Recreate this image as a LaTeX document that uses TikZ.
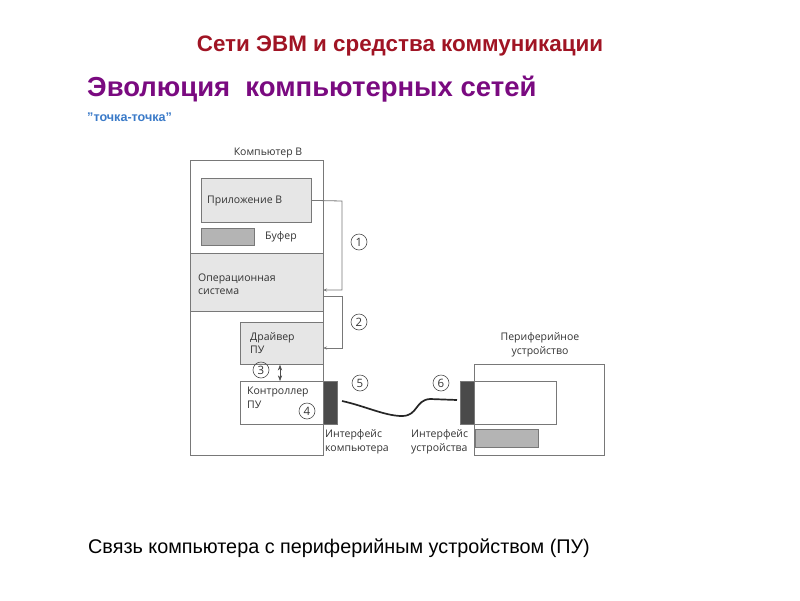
\documentclass[tikz,border=0pt]{standalone}
\usepackage{fontspec}
\setmainfont{Liberation Sans}
\newfontfamily\diagfont{Open Sans}
\usetikzlibrary{arrows.meta}
\definecolor{titlered}{HTML}{A01424}
\definecolor{headpurple}{HTML}{7A0A80}
\definecolor{subblue}{HTML}{3A7AC8}
\definecolor{lightfill}{HTML}{E6E6E6}
\definecolor{midfill}{HTML}{B4B4B4}
\definecolor{darkfill}{HTML}{4A4A4A}
\definecolor{linegray}{HTML}{787878}
\tikzset{
  box/.style={draw=linegray, line width=0.8pt},
  lbl/.style={font=\diagfont\fontsize{10.5}{13.5}\selectfont, text=black!80, inner sep=0pt, align=left},
  num/.style={circle, draw=black!70, line width=0.6pt, inner sep=0pt, minimum size=16pt, font=\diagfont\fontsize{11.5}{11.5}\selectfont, text=black!80},
  conn/.style={draw=linegray, line width=0.8pt},
}
\begin{document}
\begin{tikzpicture}[x=1pt,y=-1pt]
\useasboundingbox (0,0) rectangle (800,600);
% titles
\node[font=\bfseries\fontsize{22.4}{24}\selectfont, text=titlered] (t1) at (400,46) {Сети ЭВМ и средства коммуникации};
\node[font=\bfseries\fontsize{27.5}{30}\selectfont, text=headpurple, anchor=west, inner sep=0pt] (t2) at (87,89) {Эволюция\ \ компьютерных сетей};
\node[font=\bfseries\fontsize{12.6}{15}\selectfont, text=subblue, anchor=west, inner sep=0pt] (t3) at (87,117) {{\char34}точка-точка{\char34}};
\node[font=\fontsize{19.8}{22}\selectfont, anchor=west, inner sep=0pt] (cap) at (88,548) {Связь компьютера с периферийным устройством (ПУ)};

% computer
\node[lbl, anchor=center] (complbl) at (268,153) {Компьютер В};
\path[box, fill=white] (190,160) rectangle (323,455);
\node[box, fill=lightfill, minimum width=110pt, minimum height=44pt, anchor=north west] (app) at (201,178) {};
\node[lbl, anchor=west] at (207,201) {Приложение В};
\node[box, fill=midfill, minimum width=53pt, minimum height=17pt, anchor=north west] (buf) at (201,228) {};
\node[lbl, anchor=west] at (265,237) {Буфер};
\node[box, fill=lightfill, minimum width=133pt, minimum height=58pt, anchor=north west] (os) at (190,253) {};
\node[lbl, anchor=west] at (198,284) {Операционная\\система};
\node[box, fill=lightfill, minimum width=83pt, minimum height=42pt, anchor=north west] (drv) at (240,322) {};
\node[lbl, anchor=west] at (250,343) {Драйвер\\ПУ};
\node[box, fill=white, minimum width=83pt, minimum height=43pt, anchor=north west] (ctl) at (240,381) {};
\node[lbl, anchor=west] at (247,398) {Контроллер\\ПУ};
\node[num] (n4) at (307,411) {4};
\node[draw=linegray, fill=darkfill, minimum width=14pt, minimum height=43pt, anchor=north west, inner sep=0pt] (ifc) at (323,381) {};
\node[num] (n3) at (261,370) {3};
\draw[Stealth-Stealth, black!70, line width=0.6pt] (drv.south -| 280,0) -- (ctl.north -| 280,0);

% arrows 1 and 2
\coordinate (a1e) at (323,290);
\coordinate (a2s) at (323,296);
\coordinate (a2e) at (323,348);
\draw[conn, -{Stealth[length=4pt,width=3pt]}] (app.east) -- (342,201) -- (342,290) -- (a1e);
\draw[conn, -{Stealth[length=4pt,width=3pt]}] (a2s) -- (342,296) -- (342,348) -- (a2e);
\node[num] (n1) at (359,242) {1};
\node[num] (n2) at (359,322) {2};
\node[num] (n5) at (360,383) {5};
\node[num] (n6) at (441,383) {6};

% peripheral
\node[lbl, align=center, anchor=center] (perlbl) at (540,345) {Периферийное\\устройство};
\node[box, fill=white, minimum width=130pt, minimum height=91pt, anchor=north west] (per) at (474,364) {};
\node[box, fill=white, minimum width=82pt, minimum height=43pt, anchor=north west] (perin) at (474,381) {};
\node[box, fill=midfill, minimum width=63pt, minimum height=18pt, anchor=north west] (perbuf) at (475,429) {};
\node[draw=linegray, fill=darkfill, minimum width=14pt, minimum height=43pt, anchor=north west, inner sep=0pt] (ifd) at (460,381) {};

% cable
\coordinate (c1) at (342,401);
\coordinate (c2) at (457,400);
\draw[line width=1.7pt, black!85] (c1) .. controls (365,406) and (385,416) .. (402,416) .. controls (418,416) and (415,400) .. (430,399) -- (c2);

\node[lbl, anchor=west] at (325,442) {Интерфейс\\компьютера};
\node[lbl, anchor=west] at (411,442) {Интерфейс\\устройства};
\end{tikzpicture}
\end{document}
